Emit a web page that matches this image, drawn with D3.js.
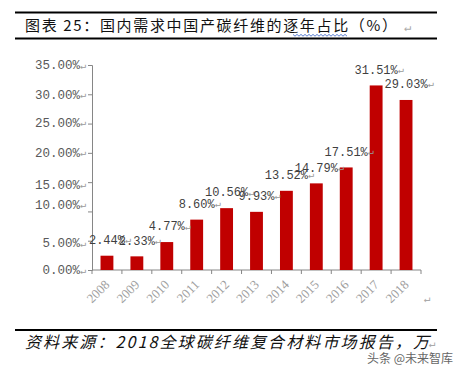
<!DOCTYPE html>
<html>
<head>
<meta charset="utf-8">
<script src="https://cdn.jsdelivr.net/npm/d3@7"></script>
<style>
  body { margin: 0; background: #fff; }
  svg { display: block; }
</style>
</head>
<body>
<div id="chart"></div>
<script>
// data
var years = ["2008", "2009", "2010", "2011", "2012", "2013", "2014", "2015", "2016", "2017", "2018"];
var shares = [2.44, 2.33, 4.77, 8.60, 10.56, 9.93, 13.52, 14.79, 17.51, 31.51, 29.03];
var yTicks = [0, 5, 10, 15, 20, 25, 30, 35];
// where each y label actually sits in the source (a few are shifted off their tick)
var yLabelAt = [0, 4.6, 11.2, 14.6, 20, 25.2, 30, 35];

var title = "图表 25：国内需求中国产碳纤维的逐年占比（%）";
var source = "资料来源：2018全球碳纤维复合材料市场报告，万";
var mark = "头条 @未来智库";

var W = 461, H = 371;
var margin = {top: 65, right: 40, bottom: 101, left: 92},
  width = W - margin.left - margin.right,
  height = H - margin.top - margin.bottom;

var numFont = "'Liberation Mono', 'DejaVu Sans Mono', monospace";
var cjkFont = "'Noto Sans CJK SC', sans-serif";

var svg = d3.select("#chart").append("svg")
  .attr("width", W)
  .attr("height", H);

svg.append("rect").attr("width", W).attr("height", H).attr("fill", "#fff");

// header rules + title
svg.append("line").attr("x1", 15).attr("x2", 437).attr("y1", 12.5).attr("y2", 12.5)
  .attr("stroke", "#000").attr("stroke-width", 2);
svg.append("line").attr("x1", 15).attr("x2", 437).attr("y1", 38.5).attr("y2", 38.5)
  .attr("stroke", "#000").attr("stroke-width", 2);

svg.append("text")
  .attr("x", 25).attr("y", 31)
  .attr("font-family", cjkFont)
  .attr("font-size", 15)
  .attr("fill", "#111")
  .attr("textLength", 372)
  .attr("lengthAdjust", "spacing")
  .text(title);
svg.append("text").attr("x", 404).attr("y", 31)
  .attr("font-family", numFont).attr("font-size", 12).attr("fill", "#aaa").text("↵");

// spell-check squiggle under 逐年占
var sq = d3.range(293, 349, 2).map(function(x, i) { return [x, i % 2 ? 36.2 : 34.4]; });
svg.append("path").attr("d", d3.line()(sq)).attr("fill", "none")
  .attr("stroke", "#5b7fd0").attr("stroke-width", 1);

var g = svg.append("g")
  .attr("transform", "translate(" + margin.left + "," + margin.top + ")");

var x = d3.scaleBand()
  .domain(years)
  .range([0, width])
  .paddingInner(0.57)
  .paddingOuter(0.285);

var y = d3.scaleLinear()
  .domain([0, 35])
  .range([height, 0]);

// y axis
var yAxis = g.append("g")
  .call(d3.axisLeft(y).tickValues(yTicks).tickSize(4).tickFormat(""));
yAxis.select(".domain").attr("stroke", "#868686");
yAxis.selectAll(".tick line").attr("stroke", "#868686");

var yl = g.append("g").selectAll("g")
  .data(yTicks)
  .enter().append("g")
  .attr("transform", function(d, i) { return "translate(0," + y(yLabelAt[i]) + ")"; });
yl.append("text")
  .attr("x", -12).attr("dy", "0.35em")
  .attr("text-anchor", "end")
  .attr("font-family", numFont).attr("font-size", 12.5)
  .attr("fill", "#595959")
  .text(function(d) { return d.toFixed(2) + "%"; });
yl.append("text")
  .attr("x", -12).attr("dy", "0.35em")
  .attr("font-family", numFont).attr("font-size", 10)
  .attr("fill", "#9a9a9a")
  .text("↵");

// x axis
g.append("line")
  .attr("x1", 0).attr("x2", width)
  .attr("y1", height).attr("y2", height)
  .attr("stroke", "#868686");
var step = x.step();
g.selectAll(".xtick")
  .data(years.concat(["end"]))
  .enter().append("line")
  .attr("class", "xtick")
  .attr("x1", function(d, i) { return i * step; })
  .attr("x2", function(d, i) { return i * step; })
  .attr("y1", height).attr("y2", height + 4)
  .attr("stroke", "#868686");

g.selectAll(".xlab")
  .data(years)
  .enter().append("text")
  .attr("class", "xlab")
  .attr("text-anchor", "end")
  .attr("font-family", "'Liberation Serif', serif")
  .attr("font-size", 13)
  .attr("fill", "#a0a0a0")
  .attr("transform", function(d) {
    return "translate(" + (x(d) + x.bandwidth() / 2 - 3) + "," + (height + 9) + ") rotate(-45)";
  })
  .attr("dy", "0.7em")
  .text(function(d) { return d; });

svg.append("text").attr("x", 424).attr("y", 302)
  .attr("font-family", numFont).attr("font-size", 11).attr("fill", "#aaa").text("↵");

// bars
g.selectAll(".bar")
  .data(shares)
  .enter().append("rect")
  .attr("class", "bar")
  .attr("x", function(d, i) { return x(years[i]); })
  .attr("y", function(d) { return y(d); })
  .attr("width", x.bandwidth())
  .attr("height", function(d) { return height - y(d); })
  .attr("fill", "#c00000");

// value labels
var vl = g.selectAll(".val")
  .data(shares)
  .enter().append("g")
  .attr("class", "val")
  .attr("transform", function(d, i) {
    return "translate(" + (x(years[i]) + x.bandwidth() / 2) + "," + (y(d) - 16) + ")";
  });
vl.append("text")
  .attr("text-anchor", "middle")
  .attr("dy", "0.35em")
  .attr("font-family", numFont).attr("font-size", 12)
  .attr("fill", "#3f3f3f")
  .text(function(d) { return d.toFixed(2) + "%"; });
vl.append("text")
  .attr("x", function() {
    return this.parentNode.firstChild.getComputedTextLength() / 2;
  })
  .attr("dy", "0.35em")
  .attr("font-family", numFont).attr("font-size", 10)
  .attr("fill", "#9a9a9a")
  .text("↵");

// footer
svg.append("line").attr("x1", 15).attr("x2", 437).attr("y1", 330).attr("y2", 330)
  .attr("stroke", "#000").attr("stroke-width", 2);
svg.append("text")
  .attr("x", 25).attr("y", 348)
  .attr("font-family", cjkFont)
  .attr("font-size", 16)
  .attr("font-style", "italic")
  .attr("fill", "#111")
  .attr("textLength", 404)
  .attr("lengthAdjust", "spacing")
  .text(source);
svg.append("text").attr("x", 429).attr("y", 347)
  .attr("font-family", numFont).attr("font-size", 11).attr("fill", "#aaa").text("↵");

svg.append("text")
  .attr("x", 367).attr("y", 363)
  .attr("font-family", cjkFont)
  .attr("font-size", 12)
  .attr("fill", "#666")
  .attr("stroke", "#fff").attr("stroke-width", 2).attr("paint-order", "stroke")
  .text(mark);
</script>
</body>
</html>
